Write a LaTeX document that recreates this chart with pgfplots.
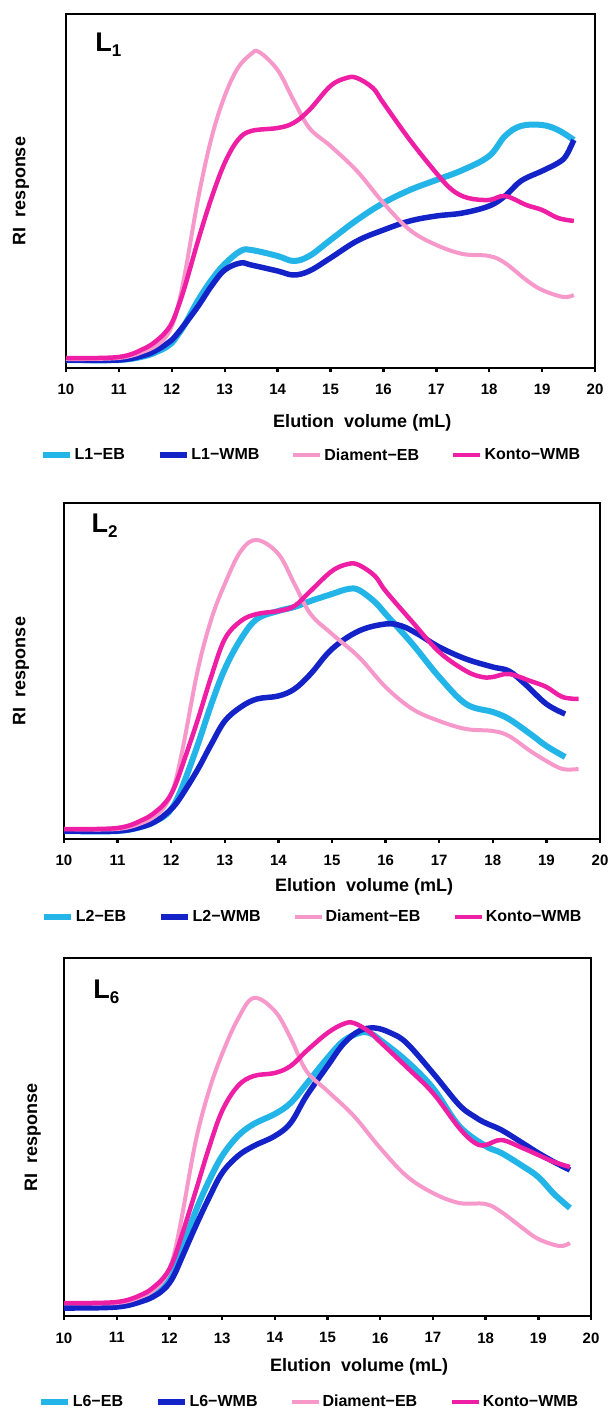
\documentclass[border=0pt]{standalone}
\usepackage{fontspec}
\setmainfont{Liberation Sans}
\usepackage{pgfplots}
\pgfplotsset{compat=1.18}

\definecolor{ebc}{RGB}{35,180,232}
\definecolor{wmbc}{RGB}{20,35,200}
\definecolor{dmc}{RGB}{246,152,202}
\definecolor{ktc}{RGB}{238,30,165}

\pgfplotsset{
  gpc/.style={
    scale only axis, xmin=10, xmax=20, ymin=0,
    xtick={10,11,...,20}, ytick=\empty, xtick pos=bottom,
    tick align=outside, major tick length=4pt,
    axis line style={line width=2.4pt},
    tick style={line width=2.4pt, black},
    /pgf/number format/assume math mode=true,
    xticklabel style={font=\bfseries\fontsize{15}{15}\selectfont, yshift=-9pt},
    label style={font=\bfseries\fontsize{18}{18}\selectfont},
    legend columns=4,
    legend style={draw=none, fill=none, anchor=center,
      font=\bfseries\fontsize{16}{16}\selectfont,
      /tikz/every even column/.append style={column sep=30pt}},
    legend image code/.code={\draw[#1] (0pt,0pt) -- (27pt,0pt);},
    every axis plot/.append style={smooth, tension=0.6, no markers},
  },
  eb/.style={ebc, line width=6pt},
  wmb/.style={wmbc, line width=5.5pt},
  dm/.style={dmc, line width=4pt},
  kt/.style={ktc, line width=4.5pt},
}

\newcommand{\plab}[1]{{\bfseries\fontsize{27}{27}\selectfont L\raisebox{-5pt}{\fontsize{17}{17}\selectfont #1}}}

\begin{document}
\begin{tikzpicture}
\path[use as bounding box] (0,0) rectangle (608pt,1410pt);

% ---- L1
\begin{axis}[gpc, at={(66pt,1042pt)}, anchor=south west,
  width=529pt, height=354pt, ymax=354,
  xlabel={Elution\ \ volume (mL)}, ylabel={RI\ \ response},
  xlabel style={at={(axis description cs:0.56,-0.155)}, anchor=center},
  ylabel style={at={(axis description cs:-0.085,0.5)}, anchor=center},
  legend style={at={(axis description cs:0.463,-0.246)}}]
\addplot[eb] coordinates {(10,8) (11,8) (11.5,12) (11.75,17) (11.9,21) (12,25) (12.1,32) (12.25,44) (12.5,68) (12.75,88) (13,104) (13.3,117) (13.5,118) (14,112) (14.3,107) (14.6,112) (15,128) (15.5,148) (16,165) (16.5,178) (17,188) (17.5,198) (18,212) (18.3,232) (18.6,242) (19,243) (19.3,238) (19.6,228)};
\addplot[wmb] coordinates {(10,8) (11,8) (11.5,13) (11.75,19) (11.9,24) (12,28) (12.1,34) (12.25,44) (12.5,62) (12.75,82) (13,98) (13.3,105) (13.5,103) (14,97) (14.3,93) (14.6,97) (15,110) (15.5,127) (16,138) (16.5,147) (17,152) (17.5,155) (18,162) (18.3,172) (18.6,187) (19,197) (19.3,205) (19.45,212) (19.6,228)};
\addplot[dm] coordinates {(10,9) (11,10) (11.5,17) (11.75,24) (11.9,32) (12,42) (12.1,58) (12.25,95) (12.5,170) (12.75,230) (13,272) (13.25,300) (13.5,314) (13.65,316) (14,298) (14.3,268) (14.6,240) (15,222) (15.5,197) (16,165) (16.5,138) (17,123) (17.5,114) (18,112) (18.3,105) (18.7,88) (19,78) (19.4,71) (19.6,73)};
\addplot[kt] coordinates {(10,10) (11,11) (11.5,20) (11.75,29) (11.9,37) (12,45) (12.1,58) (12.25,82) (12.5,128) (12.75,170) (13,205) (13.25,228) (13.5,237) (14,240) (14.3,245) (14.6,258) (15,282) (15.3,290) (15.5,290) (15.8,280) (16,265) (16.5,228) (17,195) (17.3,178) (17.6,170) (18,168) (18.3,172) (18.7,163) (19,158) (19.3,150) (19.6,147)};
\legend{L1−EB, L1−WMB, Diament−EB, Konto−WMB}
\node[anchor=base west] at (axis description cs:0.049,0.893) {\plab{1}};
\end{axis}

% ---- L2
\begin{axis}[gpc, at={(64pt,571pt)}, anchor=south west,
  width=536pt, height=336pt, ymax=336,
  xlabel={Elution\ \ volume (mL)}, ylabel={RI\ \ response},
  xlabel style={at={(axis description cs:0.56,-0.143)}, anchor=center},
  ylabel style={at={(axis description cs:-0.08,0.5)}, anchor=center},
  legend style={at={(axis description cs:0.463,-0.232)}}]
\addplot[eb] coordinates {(10,8) (11,8) (11.5,13) (11.75,19) (11.9,24) (12,30) (12.1,39) (12.25,58) (12.5,95) (12.75,135) (13,170) (13.3,200) (13.6,220) (14,228) (14.3,232) (14.6,238) (15,245) (15.3,250) (15.5,249) (15.8,237) (16,225) (16.5,195) (17,162) (17.5,135) (18,127) (18.3,120) (18.7,105) (19,93) (19.35,82)};
\addplot[wmb] coordinates {(10,8) (11,8) (11.5,13) (11.75,19) (11.9,25) (12,30) (12.1,36) (12.25,48) (12.5,70) (12.75,95) (13,118) (13.3,132) (13.6,140) (14,143) (14.3,150) (14.6,165) (15,190) (15.5,208) (16,215) (16.3,213) (16.6,205) (17,192) (17.5,180) (18,172) (18.3,168) (18.6,155) (19,135) (19.35,125)};
\addplot[dm] coordinates {(10,10) (11,10) (11.5,17) (11.75,25) (11.9,34) (12,45) (12.1,62) (12.25,100) (12.5,170) (12.75,220) (13,255) (13.3,288) (13.6,299) (14,285) (14.3,255) (14.6,225) (15,205) (15.5,182) (16,152) (16.5,130) (17,118) (17.5,110) (18,108) (18.3,103) (18.7,88) (19,78) (19.3,70) (19.6,70)};
\addplot[kt] coordinates {(10,10) (11,11) (11.5,20) (11.75,29) (11.9,37) (12,45) (12.1,57) (12.25,80) (12.5,120) (12.75,163) (13,200) (13.3,218) (13.6,225) (14,228) (14.3,233) (14.6,248) (15,268) (15.3,275) (15.5,274) (15.8,263) (16,248) (16.5,217) (17,187) (17.5,168) (17.8,162) (18,162) (18.3,165) (18.7,158) (19,152) (19.3,142) (19.6,140)};
\legend{L2−EB, L2−WMB, Diament−EB, Konto−WMB}
\node[anchor=base west] at (axis description cs:0.045,0.911) {\plab{2}};
\end{axis}

% ---- L6
\begin{axis}[gpc, at={(64pt,94pt)}, anchor=south west,
  width=527pt, height=358pt, ymax=358,
  xlabel={Elution\ \ volume (mL)}, ylabel={RI\ \ response},
  xlabel style={at={(axis description cs:0.56,-0.143)}, anchor=center},
  ylabel style={at={(axis description cs:-0.059,0.5)}, anchor=center},
  legend style={at={(axis description cs:0.465,-0.24)}}]
\addplot[eb] coordinates {(10,10) (11,10) (11.5,16) (11.75,23) (11.9,29) (12,36) (12.1,46) (12.25,68) (12.5,105) (12.75,135) (13,160) (13.3,180) (13.6,192) (14,202) (14.3,213) (14.6,232) (15,258) (15.3,275) (15.6,283) (15.8,283) (16,276) (16.5,255) (17,228) (17.5,190) (18,170) (18.3,163) (18.7,150) (19,139) (19.3,122) (19.6,108)};
\addplot[wmb] coordinates {(10,8) (11,9) (11.5,15) (11.75,21) (11.9,27) (12,33) (12.1,42) (12.25,60) (12.5,90) (12.75,118) (13,143) (13.3,160) (13.6,170) (14,180) (14.3,193) (14.6,220) (15,250) (15.3,272) (15.6,285) (15.9,288) (16.2,283) (16.5,273) (17,243) (17.5,211) (17.8,199) (18,193) (18.3,186) (18.7,173) (19,163) (19.3,154) (19.6,146)};
\addplot[dm] coordinates {(10,13) (11,13) (11.5,20) (11.75,28) (11.9,37) (12,47) (12.1,64) (12.25,103) (12.5,175) (12.75,225) (13,262) (13.3,297) (13.6,318) (14,305) (14.3,278) (14.6,245) (15,225) (15.5,200) (16,168) (16.5,140) (17,123) (17.5,113) (18,112) (18.3,104) (18.7,88) (19,77) (19.4,70) (19.6,73)};
\addplot[kt] coordinates {(10,13) (11,14) (11.5,22) (11.75,31) (11.9,39) (12,47) (12.1,59) (12.25,83) (12.5,125) (12.75,168) (13,205) (13.3,230) (13.6,240) (14,243) (14.3,250) (14.6,265) (15,283) (15.3,292) (15.5,293) (15.8,284) (16,274) (16.5,249) (17,223) (17.5,188) (17.8,173) (18,171) (18.3,176) (18.7,168) (19,161) (19.3,154) (19.6,149)};
\legend{L6−EB, L6−WMB, Diament−EB, Konto−WMB}
\node[anchor=base west] at (axis description cs:0.049,0.888) {\plab{6}};
\end{axis}
\end{tikzpicture}
\end{document}
